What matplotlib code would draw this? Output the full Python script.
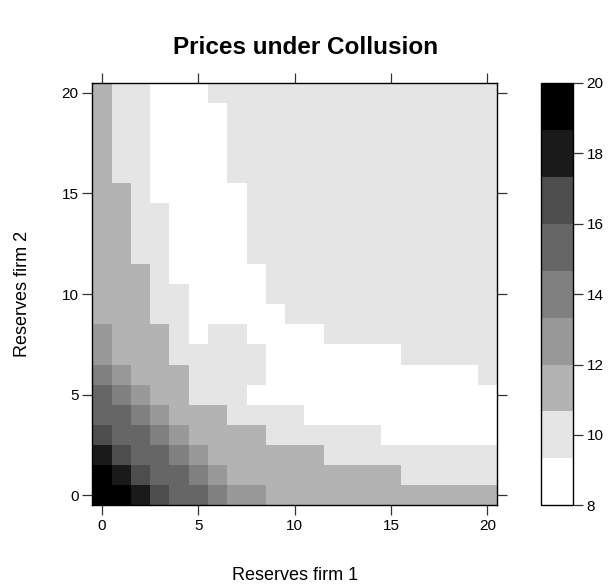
import numpy as np
import matplotlib
matplotlib.use("Agg")
import matplotlib.pyplot as plt
from matplotlib.colors import ListedColormap, BoundaryNorm

plt.rcParams['font.family'] = ['Liberation Sans', 'DejaVu Sans']

# Reserves of each firm (grid axes)
reserves_firm1 = list(range(0, 21))
reserves_firm2 = list(range(0, 21))

# Estimated collusive prices; each row is one level of firm 2 reserves (0..20),
# each column one level of firm 1 reserves (0..20)
prices = [
    [19.4, 19.4, 18.0, 16.7, 15.3, 15.3, 14.0, 12.7, 12.7, 11.3, 11.3, 11.3, 11.3, 11.3, 11.3, 11.3, 11.3, 11.3, 11.3, 11.3, 11.3],  # 0
    [19.4, 18.0, 16.7, 15.3, 15.3, 14.0, 12.7, 11.3, 11.3, 11.3, 11.3, 11.3, 11.3, 11.3, 11.3, 11.3, 10.0, 10.0, 10.0, 10.0, 10.0],  # 1
    [18.0, 16.7, 15.3, 15.3, 14.0, 12.7, 11.3, 11.3, 11.3, 11.3, 11.3, 11.3, 10.0, 10.0, 10.0, 10.0, 10.0, 10.0, 10.0, 10.0, 10.0],  # 2
    [16.7, 15.3, 15.3, 14.0, 12.7, 11.3, 11.3, 11.3, 11.3, 10.0, 10.0, 10.0, 10.0, 10.0, 10.0, 8.7, 8.7, 8.7, 8.7, 8.7, 8.7],        # 3
    [15.3, 15.3, 14.0, 12.7, 11.3, 11.3, 11.3, 10.0, 10.0, 10.0, 10.0, 8.7, 8.7, 8.7, 8.7, 8.7, 8.7, 8.7, 8.7, 8.7, 8.7],            # 4
    [15.3, 14.0, 12.7, 11.3, 11.3, 10.0, 10.0, 10.0, 8.7, 8.7, 8.7, 8.7, 8.7, 8.7, 8.7, 8.7, 8.7, 8.7, 8.7, 8.7, 8.7],              # 5
    [14.0, 12.7, 11.3, 11.3, 11.3, 10.0, 10.0, 10.0, 10.0, 8.7, 8.7, 8.7, 8.7, 8.7, 8.7, 8.7, 8.7, 8.7, 8.7, 8.7, 10.0],            # 6
    [12.7, 11.3, 11.3, 11.3, 10.0, 10.0, 10.0, 10.0, 10.0, 8.7, 8.7, 8.7, 8.7, 8.7, 8.7, 8.7, 10.0, 10.0, 10.0, 10.0, 10.0],        # 7
    [12.7, 11.3, 11.3, 11.3, 10.0, 8.7, 10.0, 10.0, 8.7, 8.7, 8.7, 8.7, 10.0, 10.0, 10.0, 10.0, 10.0, 10.0, 10.0, 10.0, 10.0],      # 8
    [11.3, 11.3, 11.3, 10.0, 10.0, 8.7, 8.7, 8.7, 8.7, 8.7, 10.0, 10.0, 10.0, 10.0, 10.0, 10.0, 10.0, 10.0, 10.0, 10.0, 10.0],      # 9
    [11.3, 11.3, 11.3, 10.0, 10.0, 8.7, 8.7, 8.7, 8.7, 10.0, 10.0, 10.0, 10.0, 10.0, 10.0, 10.0, 10.0, 10.0, 10.0, 10.0, 10.0],     # 10
    [11.3, 11.3, 11.3, 10.0, 8.7, 8.7, 8.7, 8.7, 8.7, 10.0, 10.0, 10.0, 10.0, 10.0, 10.0, 10.0, 10.0, 10.0, 10.0, 10.0, 10.0],      # 11
    [11.3, 11.3, 10.0, 10.0, 8.7, 8.7, 8.7, 8.7, 10.0, 10.0, 10.0, 10.0, 10.0, 10.0, 10.0, 10.0, 10.0, 10.0, 10.0, 10.0, 10.0],     # 12
    [11.3, 11.3, 10.0, 10.0, 8.7, 8.7, 8.7, 8.7, 10.0, 10.0, 10.0, 10.0, 10.0, 10.0, 10.0, 10.0, 10.0, 10.0, 10.0, 10.0, 10.0],     # 13
    [11.3, 11.3, 10.0, 10.0, 8.7, 8.7, 8.7, 8.7, 10.0, 10.0, 10.0, 10.0, 10.0, 10.0, 10.0, 10.0, 10.0, 10.0, 10.0, 10.0, 10.0],     # 14
    [11.3, 11.3, 10.0, 8.7, 8.7, 8.7, 8.7, 8.7, 10.0, 10.0, 10.0, 10.0, 10.0, 10.0, 10.0, 10.0, 10.0, 10.0, 10.0, 10.0, 10.0],      # 15
    [11.3, 10.0, 10.0, 8.7, 8.7, 8.7, 8.7, 10.0, 10.0, 10.0, 10.0, 10.0, 10.0, 10.0, 10.0, 10.0, 10.0, 10.0, 10.0, 10.0, 10.0],     # 16
    [11.3, 10.0, 10.0, 8.7, 8.7, 8.7, 8.7, 10.0, 10.0, 10.0, 10.0, 10.0, 10.0, 10.0, 10.0, 10.0, 10.0, 10.0, 10.0, 10.0, 10.0],     # 17
    [11.3, 10.0, 10.0, 8.7, 8.7, 8.7, 8.7, 10.0, 10.0, 10.0, 10.0, 10.0, 10.0, 10.0, 10.0, 10.0, 10.0, 10.0, 10.0, 10.0, 10.0],     # 18
    [11.3, 10.0, 10.0, 8.7, 8.7, 8.7, 8.7, 10.0, 10.0, 10.0, 10.0, 10.0, 10.0, 10.0, 10.0, 10.0, 10.0, 10.0, 10.0, 10.0, 10.0],     # 19
    [11.3, 10.0, 10.0, 8.7, 8.7, 8.7, 10.0, 10.0, 10.0, 10.0, 10.0, 10.0, 10.0, 10.0, 10.0, 10.0, 10.0, 10.0, 10.0, 10.0, 10.0],    # 20
]

# Colour key breaks and grey shades
level_breaks = [8.0, 9.333, 10.667, 12.0, 13.333, 14.667, 16.0, 17.333, 18.667, 20.0]
grey_shades = ['#FFFFFF', '#E5E5E5', '#B3B3B3', '#999999', '#808080',
               '#666666', '#4D4D4D', '#1A1A1A', '#000000']
axis_ticks = [0, 5, 10, 15, 20]
key_ticks = [8, 10, 12, 14, 16, 18, 20]

title = "Prices under Collusion"
xlabel = "Reserves firm 1"
ylabel = "Reserves firm 2"

W, H = 611, 585
fig = plt.figure(figsize=(W / 100, H / 100), dpi=100)

px_l, px_r, px_t, px_b = 92.4, 497.1, 82.7, 505.4
ax = fig.add_axes([px_l / W, 1 - px_b / H, (px_r - px_l) / W, (px_b - px_t) / H])

cmap = ListedColormap(grey_shades)
norm = BoundaryNorm(level_breaks, cmap.N)

x = np.array(reserves_firm1, dtype=float)
y = np.array(reserves_firm2, dtype=float)
xe = np.concatenate([x - 0.5, [x[-1] + 0.5]])
ye = np.concatenate([y - 0.5, [y[-1] + 0.5]])
Z = np.array(prices)
mesh = ax.pcolormesh(xe, ye, Z, cmap=cmap, norm=norm, shading='flat',
                     antialiased=False, linewidth=0)
ax.set_xlim(xe[0], xe[-1])
ax.set_ylim(ye[0], ye[-1])

ax.set_xticks(axis_ticks)
ax.set_yticks(axis_ticks)
ax.tick_params(axis='both', which='both', direction='out', length=7, width=0.9,
               color='#333333', labelsize=11, pad=3,
               top=True, right=True, labeltop=False, labelright=False)
for s in ax.spines.values():
    s.set_linewidth(1.0)
    s.set_color('black')

ax.set_xlabel(xlabel, fontsize=13, labelpad=24)
ax.set_ylabel(ylabel, fontsize=13, labelpad=22)

fig.text(0.5, 1 - 47 / H, title, ha='center', va='center',
         fontsize=17.5, fontweight='bold')

# Colour key
cx_l, cx_r = 540.5, 572.5
cax = fig.add_axes([cx_l / W, 1 - px_b / H, (cx_r - cx_l) / W, (px_b - px_t) / H])
cb = fig.colorbar(mesh, cax=cax, ticks=key_ticks)
cb.minorticks_off()
cb.outline.set_linewidth(1.0)
cb.outline.set_edgecolor('black')
cax.tick_params(which='both', direction='out', length=7, width=0.9, color='#333333',
                labelsize=11, pad=3)
cax.minorticks_off()
cax.set_yticklabels([str(t) for t in key_ticks])

fig.savefig("out.png", dpi=100)
